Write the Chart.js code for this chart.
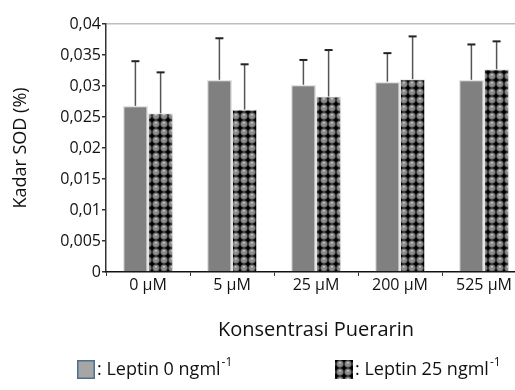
<!DOCTYPE html>
<html>
<head>
<meta charset="utf-8">
<script src="https://cdn.jsdelivr.net/npm/chart.js@4.4.0/dist/chart.umd.min.js"></script>
<style>
  body { margin: 0; overflow: hidden; background: #fff; }
  #wrap { position: absolute; left: 0; top: 0; width: 530px; height: 390px; }
</style>
</head>
<body>
<div id="wrap"><canvas id="sodChart"></canvas></div>
<script>
// data
const categories = ["0 µM", "5 µM", "25 µM", "200 µM", "525 µM"];
const leptin0 = [0.0268, 0.0310, 0.0302, 0.0307, 0.0310];
const leptin0Sd = [0.0072, 0.0067, 0.0040, 0.0046, 0.0057];
const leptin25 = [0.0256, 0.0262, 0.0283, 0.0311, 0.0327];
const leptin25Sd = [0.0066, 0.0073, 0.0075, 0.0069, 0.0045];
const yTicks = [0, 0.005, 0.01, 0.015, 0.02, 0.025, 0.03, 0.035, 0.04];

const FONT = "'Open Sans', sans-serif";

// circles on black pattern for the leptin 25 bars
function makePattern() {
    const c = document.createElement("canvas");
    c.width = 8;
    c.height = 8;
    const g = c.getContext("2d");
    g.fillStyle = "#000";
    g.fillRect(0, 0, 8, 8);
    g.fillStyle = "#8e8e8e";
    g.beginPath();
    g.arc(4, 4, 3.4, 0, Math.PI * 2);
    g.fill();
    g.strokeStyle = "#4a4a4a";
    g.lineWidth = 0.8;
    g.stroke();
    g.fillStyle = "#cfcfcf";
    g.fillRect(3, 2, 1.5, 1.5);
    return g.createPattern(c, "repeat");
}
const dotPattern = makePattern();

// error bars drawn on top of the bars
const errorBars = {
    id: "errorBars",
    afterDatasetsDraw(chart) {
        const ctx = chart.ctx;
        const yScale = chart.scales.y;
        const sds = [leptin0Sd, leptin25Sd];
        ctx.save();
        chart.data.datasets.forEach((ds, i) => {
            const meta = chart.getDatasetMeta(i);
            meta.data.forEach((bar, j) => {
                const top = yScale.getPixelForValue(ds.data[j] + sds[i][j]);
                const x = bar.x;
                ctx.strokeStyle = "#555";
                ctx.lineWidth = 1.5;
                ctx.beginPath();
                ctx.moveTo(x, bar.y);
                ctx.lineTo(x, top);
                ctx.stroke();
                ctx.strokeStyle = "#222";
                ctx.lineWidth = 2;
                ctx.beginPath();
                ctx.moveTo(x - 4, top);
                ctx.lineTo(x + 4, top);
                ctx.stroke();
            });
        });
        ctx.restore();
    }
};

// legend below the axis title, with superscript units
const legendBelow = {
    id: "legendBelow",
    afterDraw(chart) {
        const ctx = chart.ctx;
        const items = [
            { x: 77, fill: "#a6a6a6", border: "#4f6f8f", text: ": Leptin 0 ngml" },
            { x: 335, fill: dotPattern, border: null, text: ": Leptin 25 ngml" }
        ];
        const y = 360;
        ctx.save();
        items.forEach(it => {
            ctx.fillStyle = it.fill;
            ctx.fillRect(it.x, y, 18, 19);
            if (it.border) {
                ctx.strokeStyle = it.border;
                ctx.lineWidth = 1.5;
                ctx.strokeRect(it.x + 0.75, y + 0.75, 16.5, 17.5);
            }
            ctx.fillStyle = "#111";
            ctx.font = "18px " + FONT;
            ctx.textBaseline = "middle";
            ctx.textAlign = "left";
            const tx = it.x + 20;
            ctx.fillText(it.text, tx, y + 10);
            const w = ctx.measureText(it.text).width;
            ctx.font = "12px " + FONT;
            ctx.fillText("-1", tx + w + 1, y + 3);
        });
        ctx.restore();
    }
};

new Chart("sodChart", {
    type: "bar",
    data: {
        labels: categories,
        datasets: [{
            label: "Leptin 0 ngml-1",
            data: leptin0,
            backgroundColor: "#808080",
            borderColor: "#e4e4e4",
            borderWidth: 1.5,
            categoryPercentage: 0.6,
            barPercentage: 1.0
        }, {
            label: "Leptin 25 ngml-1",
            data: leptin25,
            backgroundColor: dotPattern,
            borderColor: "#e4e4e4",
            borderWidth: 1,
            categoryPercentage: 0.6,
            barPercentage: 1.0
        }]
    },
    options: {
        responsive: true,
        maintainAspectRatio: false,
        animation: false,
        layout: { padding: { top: 24, right: 4, bottom: 40, left: 0 } },
        plugins: {
            legend: { display: false },
            tooltip: { enabled: false }
        },
        scales: {
            y: {
                min: 0,
                max: 0.04,
                afterFit: s => { s.width = 106; },
                afterBuildTicks: s => { s.ticks = yTicks.map(v => ({ value: v })); },
                ticks: {
                    color: "#111",
                    font: { family: FONT, size: 16 },
                    padding: 1,
                    callback: v => String(Math.round(v * 1000) / 1000).replace(".", ",")
                },
                grid: {
                    color: c => (c.tick && c.tick.value === 0.04 ? "#bdbdbd" : "rgba(0,0,0,0)"),
                    tickColor: "#333",
                    tickLength: 4,
                    lineWidth: 1.5
                },
                border: { color: "#333", width: 1.5 },
                title: {
                    display: true,
                    text: "Kadar SOD (%)",
                    color: "#111",
                    font: { family: FONT, size: 18 },
                    padding: { top: 10, bottom: 0 }
                }
            },
            x: {
                afterFit: s => { s.height = 78; },
                ticks: {
                    color: "#111",
                    font: { family: FONT, size: 16 },
                    padding: 0
                },
                grid: {
                    offset: true,
                    drawOnChartArea: false,
                    color: "#333",
                    tickLength: 4
                },
                border: { color: "#111", width: 1.5 },
                title: {
                    display: true,
                    text: "Konsentrasi Puerarin",
                    color: "#111",
                    font: { family: FONT, size: 20 },
                    padding: { top: 0, bottom: 8 }
                }
            }
        }
    },
    plugins: [errorBars, legendBelow]
});
</script>
</body>
</html>
